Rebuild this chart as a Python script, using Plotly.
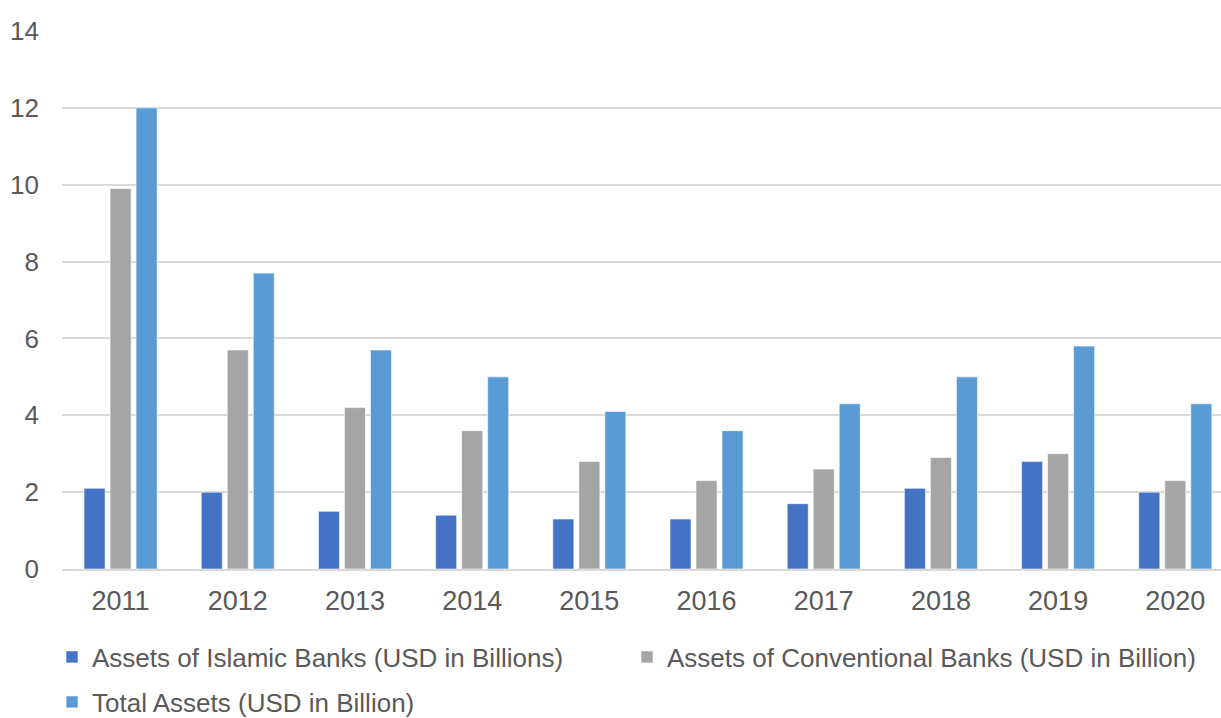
import plotly.graph_objects as go

years = ["2011", "2012", "2013", "2014", "2015", "2016", "2017", "2018", "2019", "2020"]
islamic = [2.1, 2.0, 1.5, 1.4, 1.3, 1.3, 1.7, 2.1, 2.8, 2.0]
conventional = [9.9, 5.7, 4.2, 3.6, 2.8, 2.3, 2.6, 2.9, 3.0, 2.3]
total = [12.0, 7.7, 5.7, 5.0, 4.1, 3.6, 4.3, 5.0, 5.8, 4.3]

names = ["Assets of Islamic Banks (USD in Billions)",
         "Assets of Conventional Banks (USD in Billion)",
         "Total Assets (USD in Billion)"]
colors = ["#4472C4", "#A5A5A5", "#5B9BD5"]
legends = ["legend", "legend", "legend2"]

fig = go.Figure()
for name, vals, col, lg in zip(names, [islamic, conventional, total], colors, legends):
    fig.add_trace(go.Bar(x=years, y=vals, name=name, legend=lg,
                         marker=dict(color=col, line=dict(color="rgba(255,255,255,0.6)", width=1))))

font = "Liberation Sans, Arial, sans-serif"
plot_top, plot_bottom = 31, 569
ph = plot_bottom - plot_top
legend_common = dict(orientation="h", xref="paper", x=-0.0086, xanchor="left",
                     yref="paper", yanchor="middle",
                     entrywidth=530, entrywidthmode="pixels",
                     font=dict(family=font, size=26, color="#595959"),
                     itemwidth=30, traceorder="normal", bgcolor="rgba(0,0,0,0)")
fig.update_layout(
    width=1221, height=718,
    margin=dict(l=62, r=0, t=plot_top, b=718 - plot_bottom, autoexpand=False),
    paper_bgcolor="white", plot_bgcolor="white",
    barmode="group", bargap=0.334, bargroupgap=0.19,
    font=dict(family=font, size=26, color="#595959"),
    showlegend=True,
    legend=dict(**legend_common, y=(plot_bottom - 657) / ph),
    legend2=dict(**legend_common, y=(plot_bottom - 702) / ph),
    xaxis=dict(type="category", range=[-0.5, 9.39], showgrid=False, showline=True,
               linecolor="#D9D9D9", linewidth=1.5, ticks="", ticklabelstandoff=7,
               tickfont=dict(family=font, size=27, color="#595959")),
    yaxis=dict(range=[0, 14], dtick=2, showgrid=True, gridcolor="#D9D9D9", gridwidth=1.5,
               zeroline=False, showline=False, ticks="", ticklabelstandoff=22,
               tickfont=dict(family=font, size=26, color="#595959")),
)
fig.write_html("out.html")
